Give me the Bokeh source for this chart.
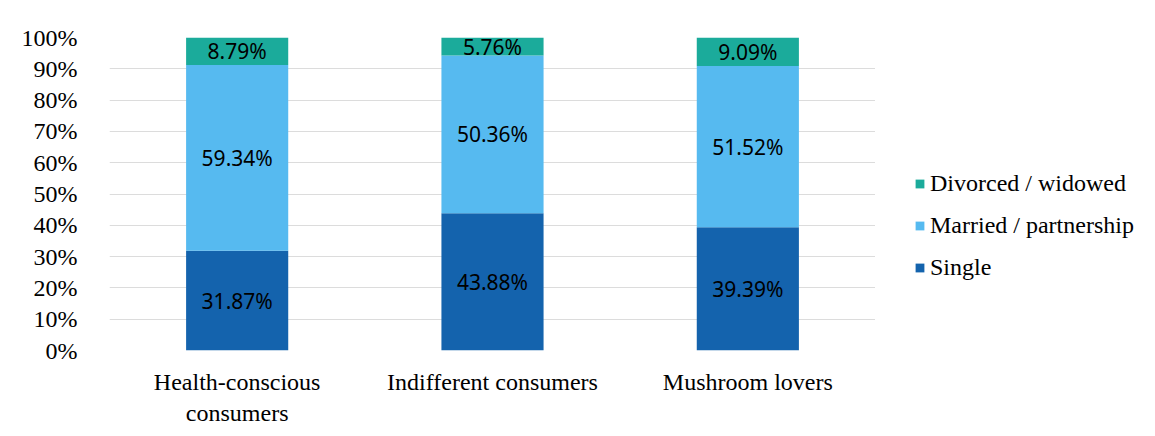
from bokeh.plotting import figure
from bokeh.layouts import row
from bokeh.models import ColumnDataSource, Range1d, FixedTicker, Legend, LegendItem, FactorRange, CustomJSTickFormatter
from bokeh.core.properties import value
from bokeh.embed import file_html
from bokeh.resources import INLINE

categories = ["Health-conscious\nconsumers", "Indifferent consumers", "Mushroom lovers"]
single = [31.87, 43.88, 39.39]
married = [59.34, 50.36, 51.52]
divorced = [8.79, 5.76, 9.09]
series_names = ["Single", "Married / partnership", "Divorced / widowed"]
series_colors = ["#1463AD", "#56BAF0", "#1BAB9B"]
tick_values = list(range(0, 101, 10))

SERIF = "Liberation Serif"

p = figure(x_range=FactorRange(*categories, range_padding=0), y_range=Range1d(0, 100),
           width=875, height=428, output_backend="svg", toolbar_location=None,
           min_border_left=109, min_border_top=37, min_border_right=0, min_border_bottom=70)
p.outline_line_color = None
p.background_fill_color = "white"
p.border_fill_color = "white"

src = ColumnDataSource(dict(cat=categories, single=single, married=married, divorced=divorced))
renderers = p.vbar_stack(["single", "married", "divorced"], x="cat", width=0.4,
                         color=series_colors, line_color=None, source=src)

# data labels
lx, ly, lt = [], [], []
for i, c in enumerate(categories):
    base = 0.0
    for vals in (single, married, divorced):
        v = vals[i]
        lx.append(c)
        ly.append(base + v / 2)
        lt.append(f"{v:.2f}%")
        base += v
p.text(x=lx, y=ly, text=lt, text_align="center", text_baseline="middle",
       text_font=value("Noto Sans"), text_font_size="21px", text_color="#000000")

# axes
p.yaxis.ticker = FixedTicker(ticks=tick_values)
p.yaxis.formatter = CustomJSTickFormatter(code="return tick + '%';")
for ax in (p.xaxis[0], p.yaxis[0]):
    ax.axis_line_color = None
    ax.major_tick_line_color = None
    ax.minor_tick_line_color = None
    ax.major_label_text_font = SERIF
    ax.major_label_text_font_size = "24px"
    ax.major_label_text_color = "#000000"
p.yaxis.major_label_standoff = 26
p.xaxis.major_label_standoff = 12
p.xaxis.major_label_orientation = "horizontal"

p.xgrid.grid_line_color = None
p.ygrid.grid_line_color = "#DCDCDC"
p.ygrid.grid_line_width = 1

# legend panel (separate canvas to the right of the chart)
p2 = figure(width=280, height=428, output_backend="svg", toolbar_location=None,
            x_axis_type=None, y_axis_type=None, x_range=Range1d(0, 1), y_range=Range1d(0, 1),
            min_border_left=0, min_border_right=0, min_border_top=0, min_border_bottom=0)
p2.outline_line_color = None
p2.xgrid.grid_line_color = None
p2.ygrid.grid_line_color = None
p2.border_fill_color = "white"
p2.background_fill_color = "white"
leg_renderers = [p2.vbar(x=[0], top=[0], width=0, color=c, line_color=None) for c in series_colors]
items = [LegendItem(label=nm, renderers=[r]) for nm, r in zip(series_names, leg_renderers)][::-1]
legend = Legend(items=items, location=(39, 69), orientation="vertical",
                glyph_width=11, glyph_height=11, label_standoff=5, spacing=15,
                label_height=20, padding=0, margin=0,
                border_line_color=None, background_fill_alpha=0,
                label_text_font=SERIF, label_text_font_size="24px",
                label_text_color="#000000")
p2.add_layout(legend, "center")

layout = row(p, p2, spacing=0)
open("out.html", "w").write(file_html(layout, INLINE))
